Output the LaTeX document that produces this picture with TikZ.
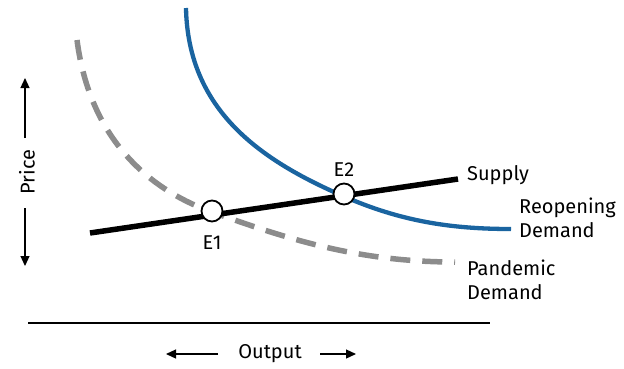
\documentclass[tikz,border=0pt]{standalone}
\usepackage{fontspec}
\setmainfont{Fira Sans}
\usetikzlibrary{arrows.meta}
\definecolor{reblue}{HTML}{1A64A0}
\definecolor{pgray}{HTML}{8C8C8C}
\begin{document}
\begin{tikzpicture}[x=1pt,y=-1pt,
  lbl/.style={font=\fontsize{20}{23.5}\selectfont, inner sep=0pt},
  eq/.style={circle, draw=black, line width=1.8pt, fill=white, minimum size=21pt, inner sep=0pt},
  axarrow/.style={line width=1.2pt, -{Triangle[length=10pt,width=9pt]}}]
\useasboundingbox (0,0) rectangle (624,368);
% curves
\coordinate (g0) at (77,40);
\coordinate (g1) at (212,212);
\coordinate (g2) at (455,262);
\draw[pgray, line width=5.5pt, dash pattern=on 20pt off 12pt]
  (g0) .. controls (90,140) and (150,190) .. (g1)
       .. controls (290,240) and (360,262) .. (g2);
\coordinate (b0) at (186,8);
\coordinate (b1) at (343,196);
\coordinate (b2) at (511,229);
\draw[reblue, line width=4.3pt]
  (b0) .. controls (188,110) and (260,160) .. (b1)
       .. controls (400,221) and (450,229) .. (b2);
\coordinate (s1) at (90,233);
\coordinate (s2) at (458,179);
\draw[black, line width=5.5pt] (s1) -- (s2);
\node[eq] (e1) at (212,211) {};
\node[eq] (e2) at (344,194) {};
\node[lbl] (le1) at (212,243) {E1};
\node[lbl] (le2) at (344,170) {E2};
\node[lbl, anchor=west] (sup) at (467,175) {Supply};
\node[lbl, anchor=west, align=left] (reo) at (519,218) {Reopening\\Demand};
\node[lbl, anchor=west, align=left] (pan) at (467,280) {Pandemic\\Demand};
% axes
\coordinate (h1) at (28,323);
\coordinate (h2) at (490,323);
\draw[line width=1.5pt] (h1) -- (h2);
\node[lbl, rotate=90] (price) at (27,172) {Price};
\coordinate (pt) at (25,78);
\coordinate (pb) at (25,266);
\draw[axarrow] (25,138) -- (pt);
\draw[axarrow] (25,208) -- (pb);
\node[lbl] (out) at (270,354) {Output};
\coordinate (ol) at (166,354);
\coordinate (or) at (356,354);
\draw[axarrow] (218,354) -- (ol);
\draw[axarrow] (320,354) -- (or);
\end{tikzpicture}
\end{document}
